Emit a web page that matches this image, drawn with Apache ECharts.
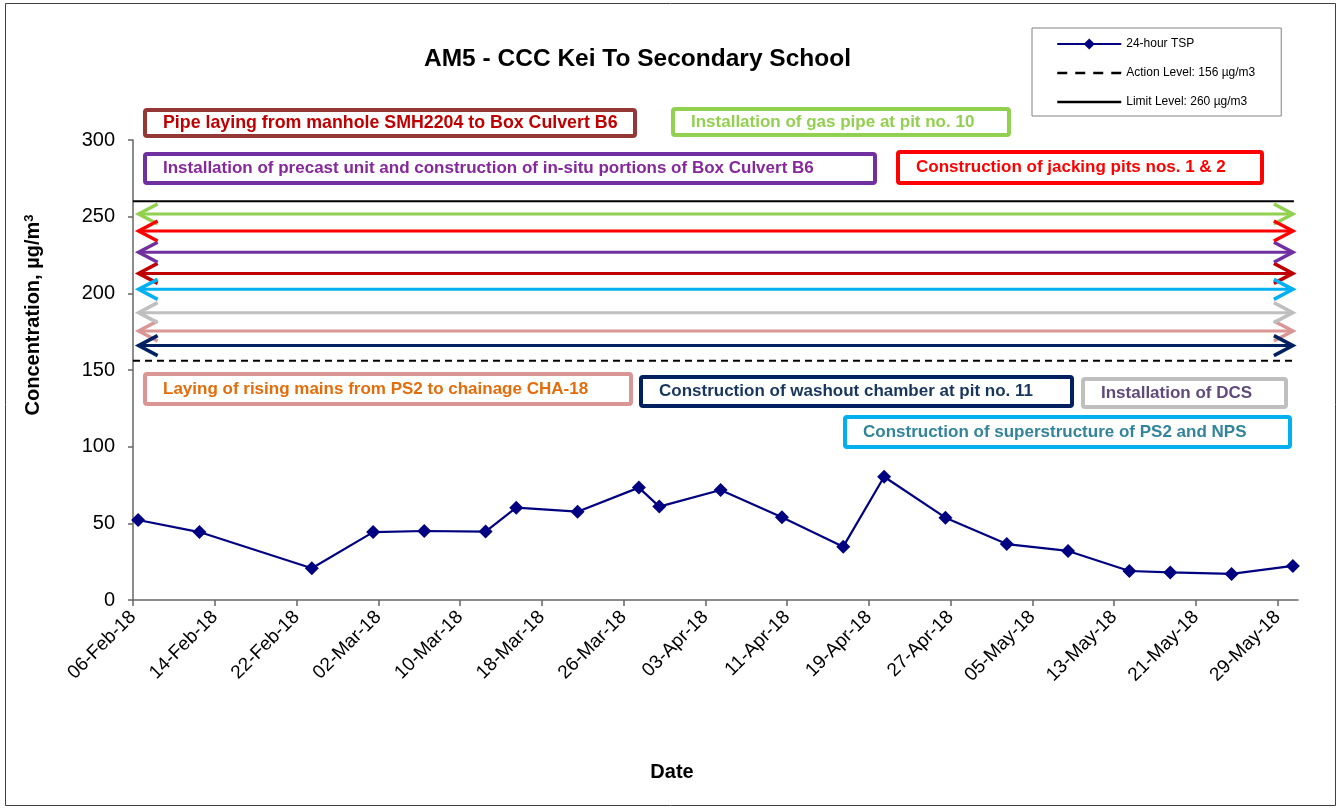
<!DOCTYPE html>
<html>
<head>
<meta charset="utf-8">
<script src="https://cdn.jsdelivr.net/npm/echarts@6/dist/echarts.min.js"></script>
<style>
html, body { margin: 0; padding: 0; background: #fff; }
#chart { width: 1340px; height: 810px; }
</style>
</head>
<body>
<div id="chart"></div>
<script>
// 24-hour TSP results
var sampleDates = ['2018-02-06', '2018-02-12', '2018-02-23', '2018-03-01', '2018-03-06', '2018-03-12', '2018-03-15',
    '2018-03-21', '2018-03-27', '2018-03-29', '2018-04-04', '2018-04-10', '2018-04-16', '2018-04-20', '2018-04-26',
    '2018-05-02', '2018-05-08', '2018-05-14', '2018-05-18', '2018-05-24', '2018-05-30'];
var tspValues = [52.2, 44.3, 20.7, 44.3, 45.0, 44.6, 60.2, 57.6, 73.3, 60.9, 71.7, 53.9, 34.8, 80.4, 53.7,
    36.5, 32.0, 18.9, 18.0, 17.0, 22.2];
var actionLevel = 156;
var limitLevel = 260;
var axisFrom = '2018-02-06';
var axisTo = '2018-05-31';
var yTicks = [0, 50, 100, 150, 200, 250, 300];

// construction activities (text box + arrow)
var activityNames = [
    'Pipe laying from manhole SMH2204 to Box Culvert B6',
    'Installation of gas pipe at pit no. 10',
    'Installation of precast unit and construction of in-situ portions of Box Culvert B6',
    'Construction of jacking pits nos. 1 & 2',
    'Laying of rising mains from PS2 to chainage CHA-18',
    'Construction of washout chamber at pit no. 11',
    'Installation of DCS',
    'Construction of superstructure of PS2 and NPS'
];
var activityFrom = ['2018-02-06', '2018-02-06', '2018-02-06', '2018-02-06', '2018-02-06', '2018-02-06', '2018-02-06', '2018-02-06'];
var activityTo = ['2018-05-30', '2018-05-30', '2018-05-30', '2018-05-30', '2018-05-30', '2018-05-30', '2018-05-30', '2018-05-30'];
var arrowLevels = [213, 251.7, 226.8, 240.7, 175.4, 165.9, 187.4, 202.6];

// styles
var arrowColors = ['#C00000', '#92D050', '#7030A0', '#FF0000', '#DA9694', '#002060', '#BFBFBF', '#00B0F0'];
var boxBorders = ['#953735', '#92D050', '#7030A0', '#FF0000', '#DA9694', '#002060', '#BFBFBF', '#00B0F0'];
var boxTextColors = ['#C00000', '#92D050', '#86289C', '#FF0000', '#E46C0A', '#17365D', '#604A7B', '#31849B'];
var boxFontSizes = [17.8, 17, 17, 17, 17, 17, 17, 17];
// box layout in px: x, y, w, h
var boxLayout = [
    [143, 108, 494, 30],
    [671, 107, 340, 30],
    [143, 152, 734, 33],
    [896, 150, 368, 35],
    [143, 372, 490, 34],
    [639, 375, 435, 33],
    [1081, 377, 207, 32],
    [843, 415, 449, 34]
];

var FONT = 'Liberation Sans, Arial, sans-serif';
var DAY = 86400000;
var base = toUtc(axisFrom);
var months = ['Jan', 'Feb', 'Mar', 'Apr', 'May', 'Jun', 'Jul', 'Aug', 'Sep', 'Oct', 'Nov', 'Dec'];

function toUtc(s) {
    var p = s.split('-');
    return Date.UTC(+p[0], +p[1] - 1, +p[2]);
}
// day number from axis start, points sit mid-day like excel date axis
function dayOf(s) {
    return (toUtc(s) - base) / DAY;
}
function fmtDay(v) {
    if (v % 8 !== 0) return '';
    var d = new Date(base + v * DAY);
    var dd = d.getUTCDate();
    return (dd < 10 ? '0' : '') + dd + '-' + months[d.getUTCMonth()] + '-' + String(d.getUTCFullYear()).slice(2);
}

var tspData = [];
for (var i = 0; i < sampleDates.length; i++) {
    tspData.push([dayOf(sampleDates[i]) + 0.5, tspValues[i]]);
}
var xMax = dayOf(axisTo);

var arrowData = [];
for (var k = 0; k < arrowLevels.length; k++) {
    arrowData.push([dayOf(activityFrom[k]) + 0.55, dayOf(activityTo[k]) + 0.5, arrowLevels[k], k]);
}

// double headed arrow, open chevrons at both ends
function renderArrow(params, api) {
    var a = api.coord([api.value(0), api.value(2)]);
    var b = api.coord([api.value(1), api.value(2)]);
    var c = arrowColors[api.value(3)];
    var st = { stroke: c, lineWidth: 3.5, fill: null, lineJoin: 'miter' };
    return {
        type: 'group',
        children: [
            { type: 'line', shape: { x1: a[0] + 1, y1: a[1], x2: b[0] - 1, y2: b[1] }, style: { stroke: c, lineWidth: 3 } },
            { type: 'polyline', shape: { points: [[a[0] + 19, a[1] - 10], [a[0], a[1]], [a[0] + 19, a[1] + 10]] }, style: st },
            { type: 'polyline', shape: { points: [[b[0] - 19, b[1] - 10], [b[0], b[1]], [b[0] - 19, b[1] + 10]] }, style: st }
        ]
    };
}

// text boxes + outer frame + axis titles
var graphics = [{
    type: 'rect',
    shape: { x: 5.5, y: 3.5, width: 1330, height: 802 },
    style: { fill: 'none', stroke: '#404040', lineWidth: 1 },
    silent: true
}, {
    type: 'text',
    x: 33, y: 315,
    rotation: Math.PI / 2,
    style: {
        text: '{n|Concentration, µg/m}{s|3}',
        align: 'center', verticalAlign: 'middle',
        rich: {
            n: { fontFamily: FONT, fontSize: 20, fontWeight: 'bold', fill: '#000' },
            s: { fontFamily: FONT, fontSize: 13, fontWeight: 'bold', fill: '#000', verticalAlign: 'top', padding: [0, 0, 8, 0] }
        }
    }
}, {
    type: 'text',
    x: 672, y: 772,
    style: { text: 'Date', fontFamily: FONT, fontSize: 20, fontWeight: 'bold', fill: '#000', align: 'center', verticalAlign: 'middle' }
}];
for (var b = 0; b < activityNames.length; b++) {
    var L = boxLayout[b];
    graphics.push({
        type: 'group',
        z: 50,
        children: [{
            type: 'rect',
            shape: { x: L[0] + 2, y: L[1] + 2, width: L[2] - 4, height: L[3] - 4, r: 2 },
            style: { fill: '#fff', stroke: boxBorders[b], lineWidth: 4 }
        }, {
            type: 'text',
            x: L[0] + 20, y: L[1] + L[3] / 2,
            style: {
                text: activityNames[b], fontFamily: FONT, fontSize: boxFontSizes[b], fontWeight: 'bold',
                fill: boxTextColors[b], align: 'left', verticalAlign: 'middle'
            }
        }]
    });
}

var myChart = echarts.init(document.getElementById('chart'));
myChart.setOption({
    backgroundColor: '#fff',
    animation: false,
    title: {
        text: 'AM5 - CCC Kei To Secondary School',
        left: 419, top: 42,
        textStyle: { fontFamily: FONT, fontSize: 24.5, fontWeight: 'bold', color: '#000' }
    },
    legend: {
        orient: 'vertical',
        left: 1032, top: 28,
        padding: [10, 26, 8, 24],
        itemWidth: 64, itemHeight: 14, itemGap: 17,
        borderColor: '#808080', borderWidth: 1,
        textStyle: { fontFamily: FONT, fontSize: 12, color: '#000' },
        data: [
            { name: '24-hour TSP' },
            { name: 'Action Level: 156 µg/m3', lineStyle: { type: [10, 8], width: 2.5 }, itemStyle: { opacity: 0 } },
            { name: 'Limit Level: 260 µg/m3', lineStyle: { width: 2.5 }, itemStyle: { opacity: 0 } }
        ]
    },
    grid: { left: 133, right: 42, top: 140, bottom: 210 },
    xAxis: {
        type: 'value',
        min: 0, max: xMax, interval: 8,
        splitLine: { show: false },
        axisLine: { lineStyle: { color: '#666', width: 1.5 } },
        axisTick: { length: 6, lineStyle: { color: '#666', width: 1.5 } },
        axisLabel: {
            rotate: 45, margin: 14, showMaxLabel: false,
            fontFamily: FONT, fontSize: 19, color: '#000',
            formatter: fmtDay
        }
    },
    yAxis: {
        type: 'value',
        min: yTicks[0], max: yTicks[yTicks.length - 1], interval: yTicks[1] - yTicks[0],
        splitLine: { show: false },
        axisLine: { show: true, lineStyle: { color: '#666', width: 1.5 } },
        axisTick: { show: true, length: 5, lineStyle: { color: '#666', width: 1.5 } },
        axisLabel: { margin: 18, fontFamily: FONT, fontSize: 20, color: '#000' }
    },
    graphic: graphics,
    series: [{
        name: 'activities',
        type: 'custom',
        silent: true,
        renderItem: renderArrow,
        encode: { x: [0, 1], y: 2 },
        data: arrowData
    }, {
        name: 'Action Level: 156 µg/m3',
        type: 'line',
        symbol: 'none',
        data: [[0, actionLevel], [xMax - 0.4, actionLevel]],
        lineStyle: { color: '#000', width: 2, type: [7, 5] },
        itemStyle: { color: '#000' }
    }, {
        name: 'Limit Level: 260 µg/m3',
        type: 'line',
        symbol: 'none',
        data: [[0, limitLevel], [xMax - 0.4, limitLevel]],
        lineStyle: { color: '#000', width: 2 },
        itemStyle: { color: '#000' }
    }, {
        name: '24-hour TSP',
        type: 'line',
        data: tspData,
        symbol: 'diamond',
        symbolSize: 14,
        z: 5,
        lineStyle: { color: '#000080', width: 2.2 },
        itemStyle: { color: '#000080' }
    }]
});
</script>
</body>
</html>
